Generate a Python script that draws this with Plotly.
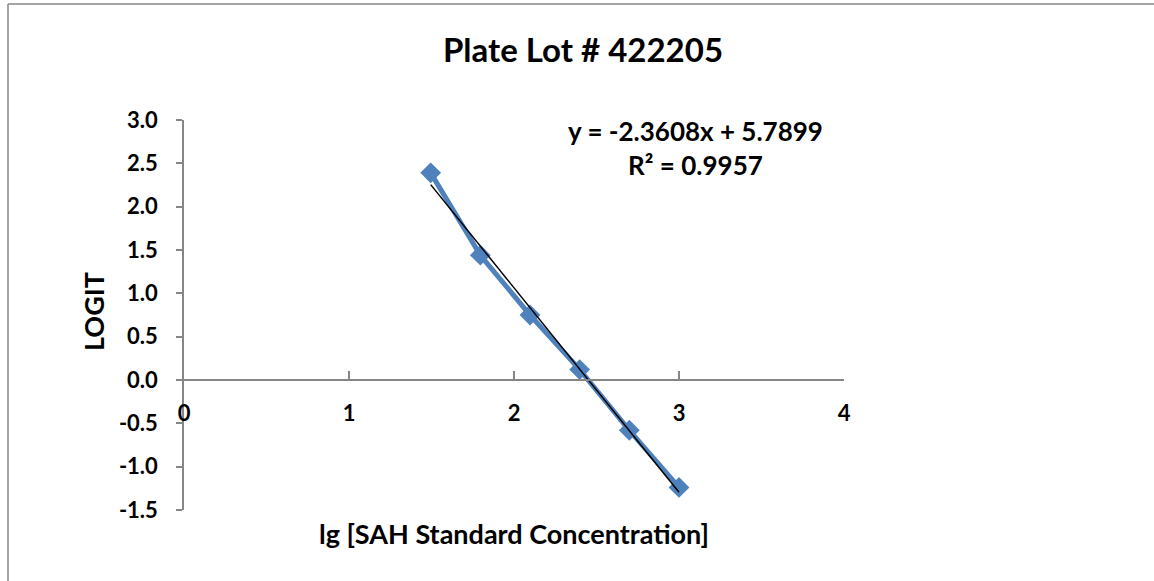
import numpy as np
import plotly.graph_objects as go

# Data
lg_conc = [1.495, 1.796, 2.097, 2.398, 2.699, 3.0]
logit = [2.39, 1.44, 0.75, 0.12, -0.58, -1.24]
x_ticks = [0, 1, 2, 3, 4]
y_ticks = [-1.5, -1.0, -0.5, 0.0, 0.5, 1.0, 1.5, 2.0, 2.5, 3.0]
y_tick_labels = ["-1.5", "-1.0", "-0.5", "0.0", "0.5", "1.0", "1.5", "2.0", "2.5", "3.0"]
title_text = "Plate Lot # 422205"
eq_text = "y = -2.3608x + 5.7899<br>R² = 0.9957"

W, H = 1154, 581
L, R, T, B = 184, 1154 - 844, 120, 581 - 510
pw, ph = W - L - R, H - T - B

def px_x(p):
    return (p - L) / pw

def px_y(p):
    return (H - B - p) / ph

FONT = "Lato"
blue = "#4F81BD"
axis_col = "#868686"

slope, intercept = np.polyfit(lg_conc, logit, 1)
trend_x = [min(lg_conc), max(lg_conc)]
trend_y = [slope * v + intercept for v in trend_x]

fig = go.Figure()
fig.add_trace(go.Scatter(
    x=lg_conc, y=logit, mode="lines+markers",
    line=dict(color=blue, width=5),
    marker=dict(symbol="diamond", size=16, color=blue),
    showlegend=False,
))
fig.add_trace(go.Scatter(
    x=trend_x, y=trend_y, mode="lines",
    line=dict(color="black", width=1.5),
    showlegend=False,
))

ymin, ymax = -1.5, 3.0
tickfont = dict(size=22, family=FONT, weight="bold", color="black")
fig.update_layout(
    width=W, height=H,
    margin=dict(l=L, r=R, t=T, b=B),
    paper_bgcolor="white", plot_bgcolor="white",
    font=dict(family=FONT, color="black"),
    title=dict(text="<b>" + title_text + "</b>", x=px_x(583), xref="paper", xanchor="center",
               y=1 - 50 / H, yanchor="middle", font=dict(size=33, family=FONT)),
    xaxis=dict(
        range=[0, 4], tickvals=x_ticks, ticktext=[str(v) for v in x_ticks],
        anchor="free", position=(0 - ymin) / (ymax - ymin),
        showline=True, linecolor=axis_col, linewidth=1.5,
        ticks="inside", ticklen=8, tickcolor=axis_col, tickwidth=1.5,
        showgrid=False, zeroline=False,
        tickfont=tickfont, ticklabelstandoff=14,
    ),
    yaxis=dict(
        range=[ymin, ymax], tickvals=y_ticks, ticktext=y_tick_labels,
        showline=True, linecolor=axis_col, linewidth=1.5,
        ticks="outside", ticklen=6, tickcolor=axis_col, tickwidth=1.5,
        showgrid=False, zeroline=False,
        tickfont=tickfont, ticklabelstandoff=14,
    ),
)

fig.add_annotation(text="<b>lg [SAH Standard Concentration]</b>", xref="paper", yref="paper",
                   x=px_x(514), y=px_y(533), showarrow=False, font=dict(size=27, family=FONT),
                   xanchor="center", yanchor="middle")
fig.add_annotation(text="<b>LOGIT</b>", xref="paper", yref="paper", textangle=-90,
                   x=px_x(93), y=px_y(312), showarrow=False, font=dict(size=27, family=FONT),
                   xanchor="center", yanchor="middle")
fig.add_annotation(text="<b>" + eq_text + "</b>", xref="paper", yref="paper",
                   x=px_x(695), y=px_y(148), showarrow=False, font=dict(size=26, family=FONT),
                   xanchor="center", yanchor="middle", align="center")

# chart border (top and left visible)
fig.add_shape(type="line", xref="paper", yref="paper", x0=px_x(8), x1=px_x(1160),
              y0=px_y(4), y1=px_y(4), line=dict(color=axis_col, width=1.5))
fig.add_shape(type="line", xref="paper", yref="paper", x0=px_x(8), x1=px_x(8),
              y0=px_y(4), y1=px_y(600), line=dict(color=axis_col, width=1.5))

fig.write_html("out.html", config={"displayModeBar": False},
               post_script="document.body.style.margin='0';document.body.style.overflow='hidden';")
